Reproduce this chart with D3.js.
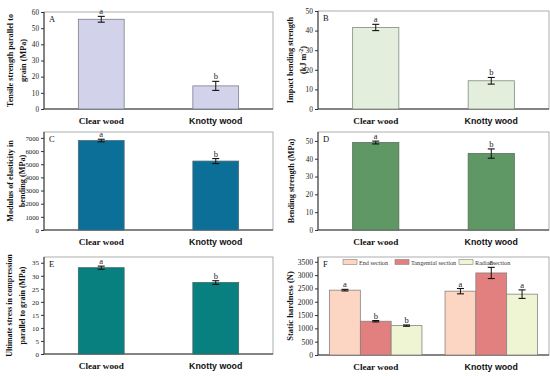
<!DOCTYPE html>
<html>
<head>
<meta charset="utf-8">
<script src="https://cdn.jsdelivr.net/npm/d3@7"></script>
<style>
  body { margin: 0; background: #fff; }
  svg { display: block; }
</style>
</head>
<body>
<svg id="chart" width="550" height="376"></svg>
<script>
const groups = ["Clear wood", "Knotty wood"];
const sections = ["End section", "Tangential section", "Radial section"];

const tensileMean = [55.5, 14.3];
const tensileErr = [1.8, 2.8];
const tensileLetters = ["a", "b"];

const impactMean = [41.6, 14.4];
const impactErr = [1.6, 1.7];
const impactLetters = ["a", "b"];

const moeMean = [6800, 5240];
const moeErr = [100, 190];
const moeLetters = ["a", "b"];

const bendingMean = [49.1, 42.9];
const bendingErr = [0.8, 2.6];
const bendingLetters = ["a", "b"];

const compressionMean = [33.1, 27.4];
const compressionErr = [0.6, 0.7];
const compressionLetters = ["a", "b"];

// static hardness: rows = groups, columns = sections
const hardnessMean = [[2435, 1268, 1103], [2397, 3081, 2285]];
const hardnessErr = [[30, 25, 25], [100, 210, 160]];
const hardnessLetters = [["a", "b", "b"], ["a", "a", "a"]];

const SECTION_COLORS = ["#fcd6c2", "#e27f7f", "#eff5d2"];
const SERIF = "Liberation Serif, Times New Roman, serif";

const svg = d3.select("#chart");
svg.append("rect").attr("width", 550).attr("height", 376).attr("fill", "#fff");

function panel(cfg) {
  const { x0, x1, y0, y1 } = cfg.box;
  const g = svg.append("g");
  const y = d3.scaleLinear().domain([0, cfg.max]).range([y1, y0]);
  const x = d3.scaleBand().domain(groups).range([x0, x1]).paddingInner(cfg.pad).paddingOuter(cfg.pad / 2);

  // frame (top/right grey)
  g.append("rect")
    .attr("x", x0).attr("y", y0)
    .attr("width", x1 - x0).attr("height", y1 - y0)
    .attr("fill", "none").attr("stroke", "#9a9a9a").attr("stroke-width", 0.8);

  const yAxis = g.append("g")
    .attr("transform", `translate(${x0},0)`)
    .call(d3.axisLeft(y).tickValues(cfg.ticks).tickFormat(d3.format("d")).tickSize(3).tickPadding(2));
  yAxis.selectAll("text")
    .attr("font-family", SERIF)
    .attr("font-size", cfg.tickSize).attr("fill", "#222");
  yAxis.selectAll("line, path").attr("stroke", "#333");
  yAxis.select(".domain").attr("d", `M0,${y0}V${y1}`);

  g.append("line")
    .attr("x1", x0).attr("x2", x1).attr("y1", y1).attr("y2", y1)
    .attr("stroke", "#333");

  // bars
  if (cfg.series) {
    const xs = d3.scaleBand().domain(sections).range([0, x.bandwidth()]);
    groups.forEach((grp, gi) => {
      sections.forEach((sec, si) => {
        const bx = x(grp) + xs(sec);
        const v = cfg.series[gi][si], e = cfg.err[gi][si];
        drawBar(g, bx, xs.bandwidth(), y, v, e, cfg.letters[gi][si], SECTION_COLORS[si], cfg.stroke);
      });
    });
  } else {
    groups.forEach((grp, gi) => {
      drawBar(g, x(grp), x.bandwidth(), y, cfg.mean[gi], cfg.err[gi], cfg.letters[gi], cfg.color, cfg.stroke);
    });
  }

  // category labels
  groups.forEach((grp, gi) => {
    g.append("text")
      .attr("x", x(grp) + x.bandwidth() / 2)
      .attr("y", y1 + 15)
      .attr("text-anchor", "middle")
      .attr("font-family", gi === 0 ? SERIF : "Liberation Sans, Arial, sans-serif")
      .attr("font-weight", "bold")
      .attr("font-size", gi === 0 ? 9.2 : 8.8)
      .attr("fill", "#111")
      .text(grp);
  });

  // panel letter
  g.append("text")
    .attr("x", x0 + 5).attr("y", y0 + 10)
    .attr("font-family", SERIF).attr("font-size", 8.5)
    .attr("fill", "#111")
    .text(cfg.tag);

  // y label
  const lab = g.append("text")
    .attr("transform", `translate(${cfg.labelX},${(y0 + y1) / 2}) rotate(-90)`)
    .attr("text-anchor", "middle")
    .attr("font-family", SERIF).attr("font-weight", "bold")
    .attr("font-size", cfg.labelSize).attr("fill", "#111");
  cfg.label.forEach((line, i) => {
    const t = lab.append("tspan").attr("x", 0).attr("dy", i === 0 ? 0 : cfg.labelGap);
    if (Array.isArray(line)) {
      line.forEach(part => {
        const s = t.append("tspan").text(part.text);
        if (part.sup) s.attr("dy", -3).attr("font-size", cfg.labelSize * 0.7);
        else if (part.after) s.attr("dy", 3);
      });
    } else {
      t.text(line);
    }
  });
  return g;
}

function drawBar(g, bx, bw, y, v, e, letter, color, stroke) {
  g.append("rect")
    .attr("x", bx).attr("y", y(v))
    .attr("width", bw).attr("height", y(0) - y(v))
    .attr("fill", color).attr("stroke", stroke).attr("stroke-width", 0.8);
  const cx = bx + bw / 2;
  const capW = 3.5;
  g.append("line").attr("x1", cx).attr("x2", cx).attr("y1", y(v + e)).attr("y2", y(v - e))
    .attr("stroke", "#111").attr("stroke-width", 1);
  [v + e, v - e].forEach(val => {
    g.append("line").attr("x1", cx - capW).attr("x2", cx + capW)
      .attr("y1", y(val)).attr("y2", y(val))
      .attr("stroke", "#111").attr("stroke-width", 1.1);
  });
  g.append("text")
    .attr("x", cx).attr("y", y(v + e) - 2)
    .attr("text-anchor", "middle")
    .attr("font-family", SERIF).attr("font-size", 8.5)
    .attr("fill", "#222")
    .text(letter);
}

panel({
  tag: "A", box: { x0: 44, x1: 273, y0: 12, y1: 109 }, max: 60, ticks: d3.range(0, 61, 10),
  mean: tensileMean, err: tensileErr, letters: tensileLetters, pad: 0.6,
  color: "#d2d2ea", stroke: "#7c7c8c", tickSize: 7.2,
  label: ["Tensile strength parallel to", "grain (MPa)"], labelX: 13, labelGap: 12.5, labelSize: 8.2
});

panel({
  tag: "B", box: { x0: 318, x1: 549, y0: 11, y1: 109 }, max: 50, ticks: d3.range(0, 51, 10),
  mean: impactMean, err: impactErr, letters: impactLetters, pad: 0.6,
  color: "#e3efdc", stroke: "#7f8a7c", tickSize: 7.4,
  label: ["Impact bending strength", [{ text: "(kJ m" }, { text: "-2", sup: true }, { text: ")", after: true }]],
  labelX: 293, labelGap: 12.5, labelSize: 8.2
});

panel({
  tag: "C", box: { x0: 44, x1: 273, y0: 132, y1: 230 }, max: 7450, ticks: d3.range(0, 7001, 1000),
  mean: moeMean, err: moeErr, letters: moeLetters, pad: 0.6,
  color: "#0b6f97", stroke: "#4d6b78", tickSize: 6.8,
  label: ["Modulus of elasticity in", "bending (MPa)"], labelX: 13, labelGap: 11.5, labelSize: 8.2
});

panel({
  tag: "D", box: { x0: 318, x1: 549, y0: 132, y1: 230 }, max: 55, ticks: d3.range(0, 51, 10),
  mean: bendingMean, err: bendingErr, letters: bendingLetters, pad: 0.6,
  color: "#5f9765", stroke: "#5a6b5c", tickSize: 7.2,
  label: ["Bending strength (MPa)"], labelX: 294, labelGap: 12, labelSize: 8.2
});

panel({
  tag: "E", box: { x0: 44, x1: 273, y0: 257, y1: 354 }, max: 37.2, ticks: d3.range(0, 36, 5),
  mean: compressionMean, err: compressionErr, letters: compressionLetters, pad: 0.6,
  color: "#08807f", stroke: "#3e6868", tickSize: 7,
  label: ["Ultimate stress in compression", "parallel to grain (MPa)"], labelX: 12, labelGap: 12.5, labelSize: 7.9
});

const f = panel({
  tag: "F", box: { x0: 318, x1: 549, y0: 257, y1: 355 }, max: 3680, ticks: d3.range(0, 3501, 500),
  series: hardnessMean, err: hardnessErr, letters: hardnessLetters, pad: 0.2,
  stroke: "#8a8080", tickSize: 7.6,
  label: ["Static hardness (N)"], labelX: 293, labelGap: 12, labelSize: 8.5
});

// legend for F
const legendX = [343, 395, 459];
sections.forEach((sec, i) => {
  f.append("rect")
    .attr("x", legendX[i]).attr("y", 259.5)
    .attr("width", 14).attr("height", 5)
    .attr("fill", SECTION_COLORS[i]).attr("stroke", "#8a8080").attr("stroke-width", 0.6);
  f.append("text")
    .attr("x", legendX[i] + 16).attr("y", 264.5)
    .attr("font-family", SERIF).attr("font-size", 6.2)
    .attr("fill", "#333")
    .text(sec);
});
</script>
</body>
</html>
